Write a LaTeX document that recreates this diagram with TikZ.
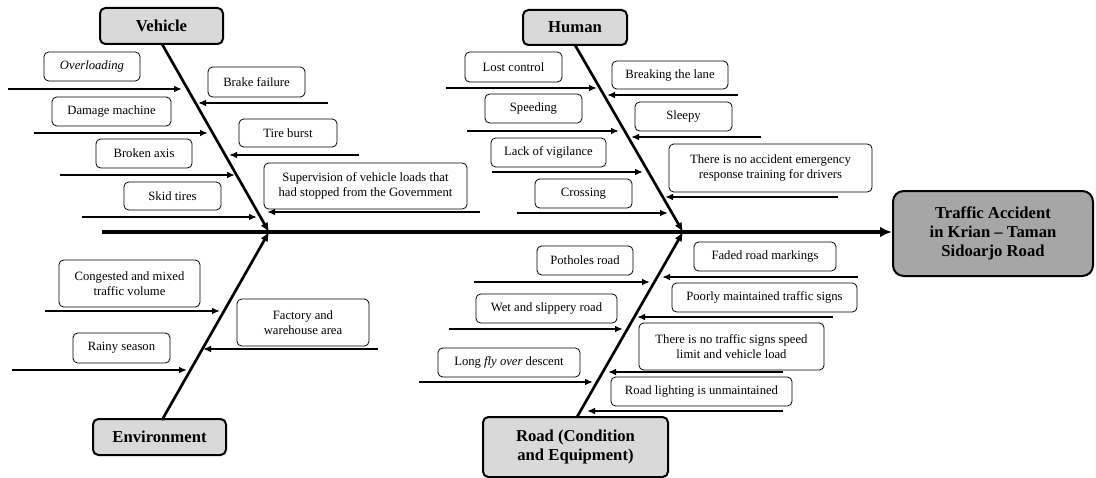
\documentclass[tikz,border=0pt]{standalone}
\usepackage{fontspec}
\setmainfont{Liberation Serif}
\usetikzlibrary{arrows.meta}
\tikzset{
  cbox/.style={draw, line width=0.6pt, rounded corners=3.5pt, align=center, inner sep=1pt, font=\fontsize{9.5}{11.2}\selectfont},
  catbox/.style={draw, line width=1.5pt, rounded corners=4pt, fill=black!15, align=center, inner sep=1pt, font=\fontsize{12.5}{14.5}\selectfont\bfseries},
  headbox/.style={draw, line width=1.5pt, rounded corners=8pt, fill=black!35, align=center, inner sep=1pt, font=\fontsize{12.5}{14.4}\selectfont\bfseries},
  carrow/.style={line width=1.2pt, -{Latex[length=6pt,width=5pt]}},
  bone/.style={line width=2pt, -{Latex[length=7pt,width=6pt]}},
  spine/.style={line width=2.6pt, -{Latex[length=9pt,width=8pt]}},
}
\newcommand\bx[7]{\node[#1, minimum width={(#5-#3)*0.75pt}, minimum height={(#6-#4)*0.75pt}] (#2) at ({(#3+#5)/2},{(#4+#6)/2}) {#7};}
\newcommand\ca[4]{\coordinate (#1t) at (#2,#4); \coordinate (#1h) at (#3,#4); \draw[carrow] (#1t) -- (#1h);}
\begin{document}
\begin{tikzpicture}[x=0.75pt,y=-0.75pt]
\useasboundingbox (0,0) rectangle (1096,478);
% head and spine
\bx{headbox}{head}{893}{191}{1093}{276}{Traffic Accident\\in Krian -- Taman\\Sidoarjo Road}
\coordinate (s0) at (102,232);
\draw[spine] (s0) -- (head.west|-s0);
% categories
\bx{catbox}{veh}{100}{8}{223}{44}{Vehicle}
\bx{catbox}{hum}{523}{10}{627}{45}{Human}
\bx{catbox}{env}{93}{419}{226}{455}{Environment}
\bx{catbox}{road}{483}{417}{668}{477}{Road (Condition\\and Equipment)}
\coordinate (j1) at (269,232);
\coordinate (j2) at (683,232);
\coordinate (vb) at (162,44);
\coordinate (hb) at (575,45);
\coordinate (eb) at (162,420);
\coordinate (rb) at (577,417);
\draw[bone] (vb) -- (j1);
\draw[bone] (hb) -- (j2);
\draw[bone] (eb) -- (j1);
\draw[bone] (rb) -- (j2);
% Vehicle causes
\bx{cbox}{v1}{44}{52}{140}{81}{\itshape Overloading}
\ca{v1}{8}{182}{89}
\bx{cbox}{v2}{208}{67}{305}{97}{Brake failure}
\ca{v2}{328}{198}{103}
\bx{cbox}{v3}{52}{97}{171}{126}{Damage machine}
\ca{v3}{34}{208}{133}
\bx{cbox}{v4}{239}{119}{337}{147}{Tire burst}
\ca{v4}{359}{229}{155}
\bx{cbox}{v5}{96}{139}{192}{168}{Broken axis}
\ca{v5}{60}{235}{175}
\bx{cbox}{v6}{264}{163}{467}{209}{Supervision of vehicle loads that\\had stopped from the Government}
\ca{v6}{480}{267}{212}
\bx{cbox}{v7}{124}{182}{221}{210}{Skid tires}
\ca{v7}{82}{257}{217}
% Human causes
\bx{cbox}{h1}{465}{52}{562}{82}{Lost control}
\ca{h1}{446}{597}{88}
\bx{cbox}{h2}{612}{61}{728}{89}{Breaking the lane}
\ca{h2}{738}{607}{95}
\bx{cbox}{h3}{485}{94}{582}{123}{Speeding}
\ca{h3}{467}{619}{131}
\bx{cbox}{h4}{635}{102}{732}{131}{Sleepy}
\ca{h4}{761}{631}{137}
\bx{cbox}{h5}{491}{138}{606}{167}{Lack of vigilance}
\ca{h5}{492}{643}{172}
\bx{cbox}{h6}{669}{144}{872}{192}{There is no accident emergency\\response training for drivers}
\ca{h6}{838}{665}{197}
\bx{cbox}{h7}{535}{179}{632}{208}{Crossing}
\ca{h7}{517}{668}{213}
% Environment causes
\bx{cbox}{e1}{59}{260}{200}{307}{Congested and mixed\\traffic volume}
\ca{e1}{45}{220}{311}
\bx{cbox}{e2}{237}{299}{369}{346}{Factory and\\warehouse area}
\ca{e2}{378}{203}{349}
\bx{cbox}{e3}{73}{333}{170}{363}{Rainy season}
\ca{e3}{12}{187}{370}
% Road causes
\bx{cbox}{r1}{537}{246}{633}{275}{Potholes road}
\ca{r1}{474}{650}{282}
\bx{cbox}{r2}{694}{242}{836}{271}{Faded road markings}
\ca{r2}{858}{662}{277}
\bx{cbox}{r3}{476}{294}{617}{323}{Wet and slippery road}
\ca{r3}{449}{623}{329}
\bx{cbox}{r4}{672}{283}{857}{312}{Poorly maintained traffic signs}
\ca{r4}{833}{637}{317}
\bx{cbox}{r5}{639}{323}{824}{370}{There is no traffic signs speed\\limit and vehicle load}
\ca{r5}{783}{608}{372}
\bx{cbox}{r6}{438}{348}{580}{377}{Long \textit{fly over} descent}
\ca{r6}{419}{593}{382}
\bx{cbox}{r7}{611}{377}{792}{406}{Road lighting is unmaintained}
\ca{r7}{783}{587}{411}
\end{tikzpicture}
\end{document}
